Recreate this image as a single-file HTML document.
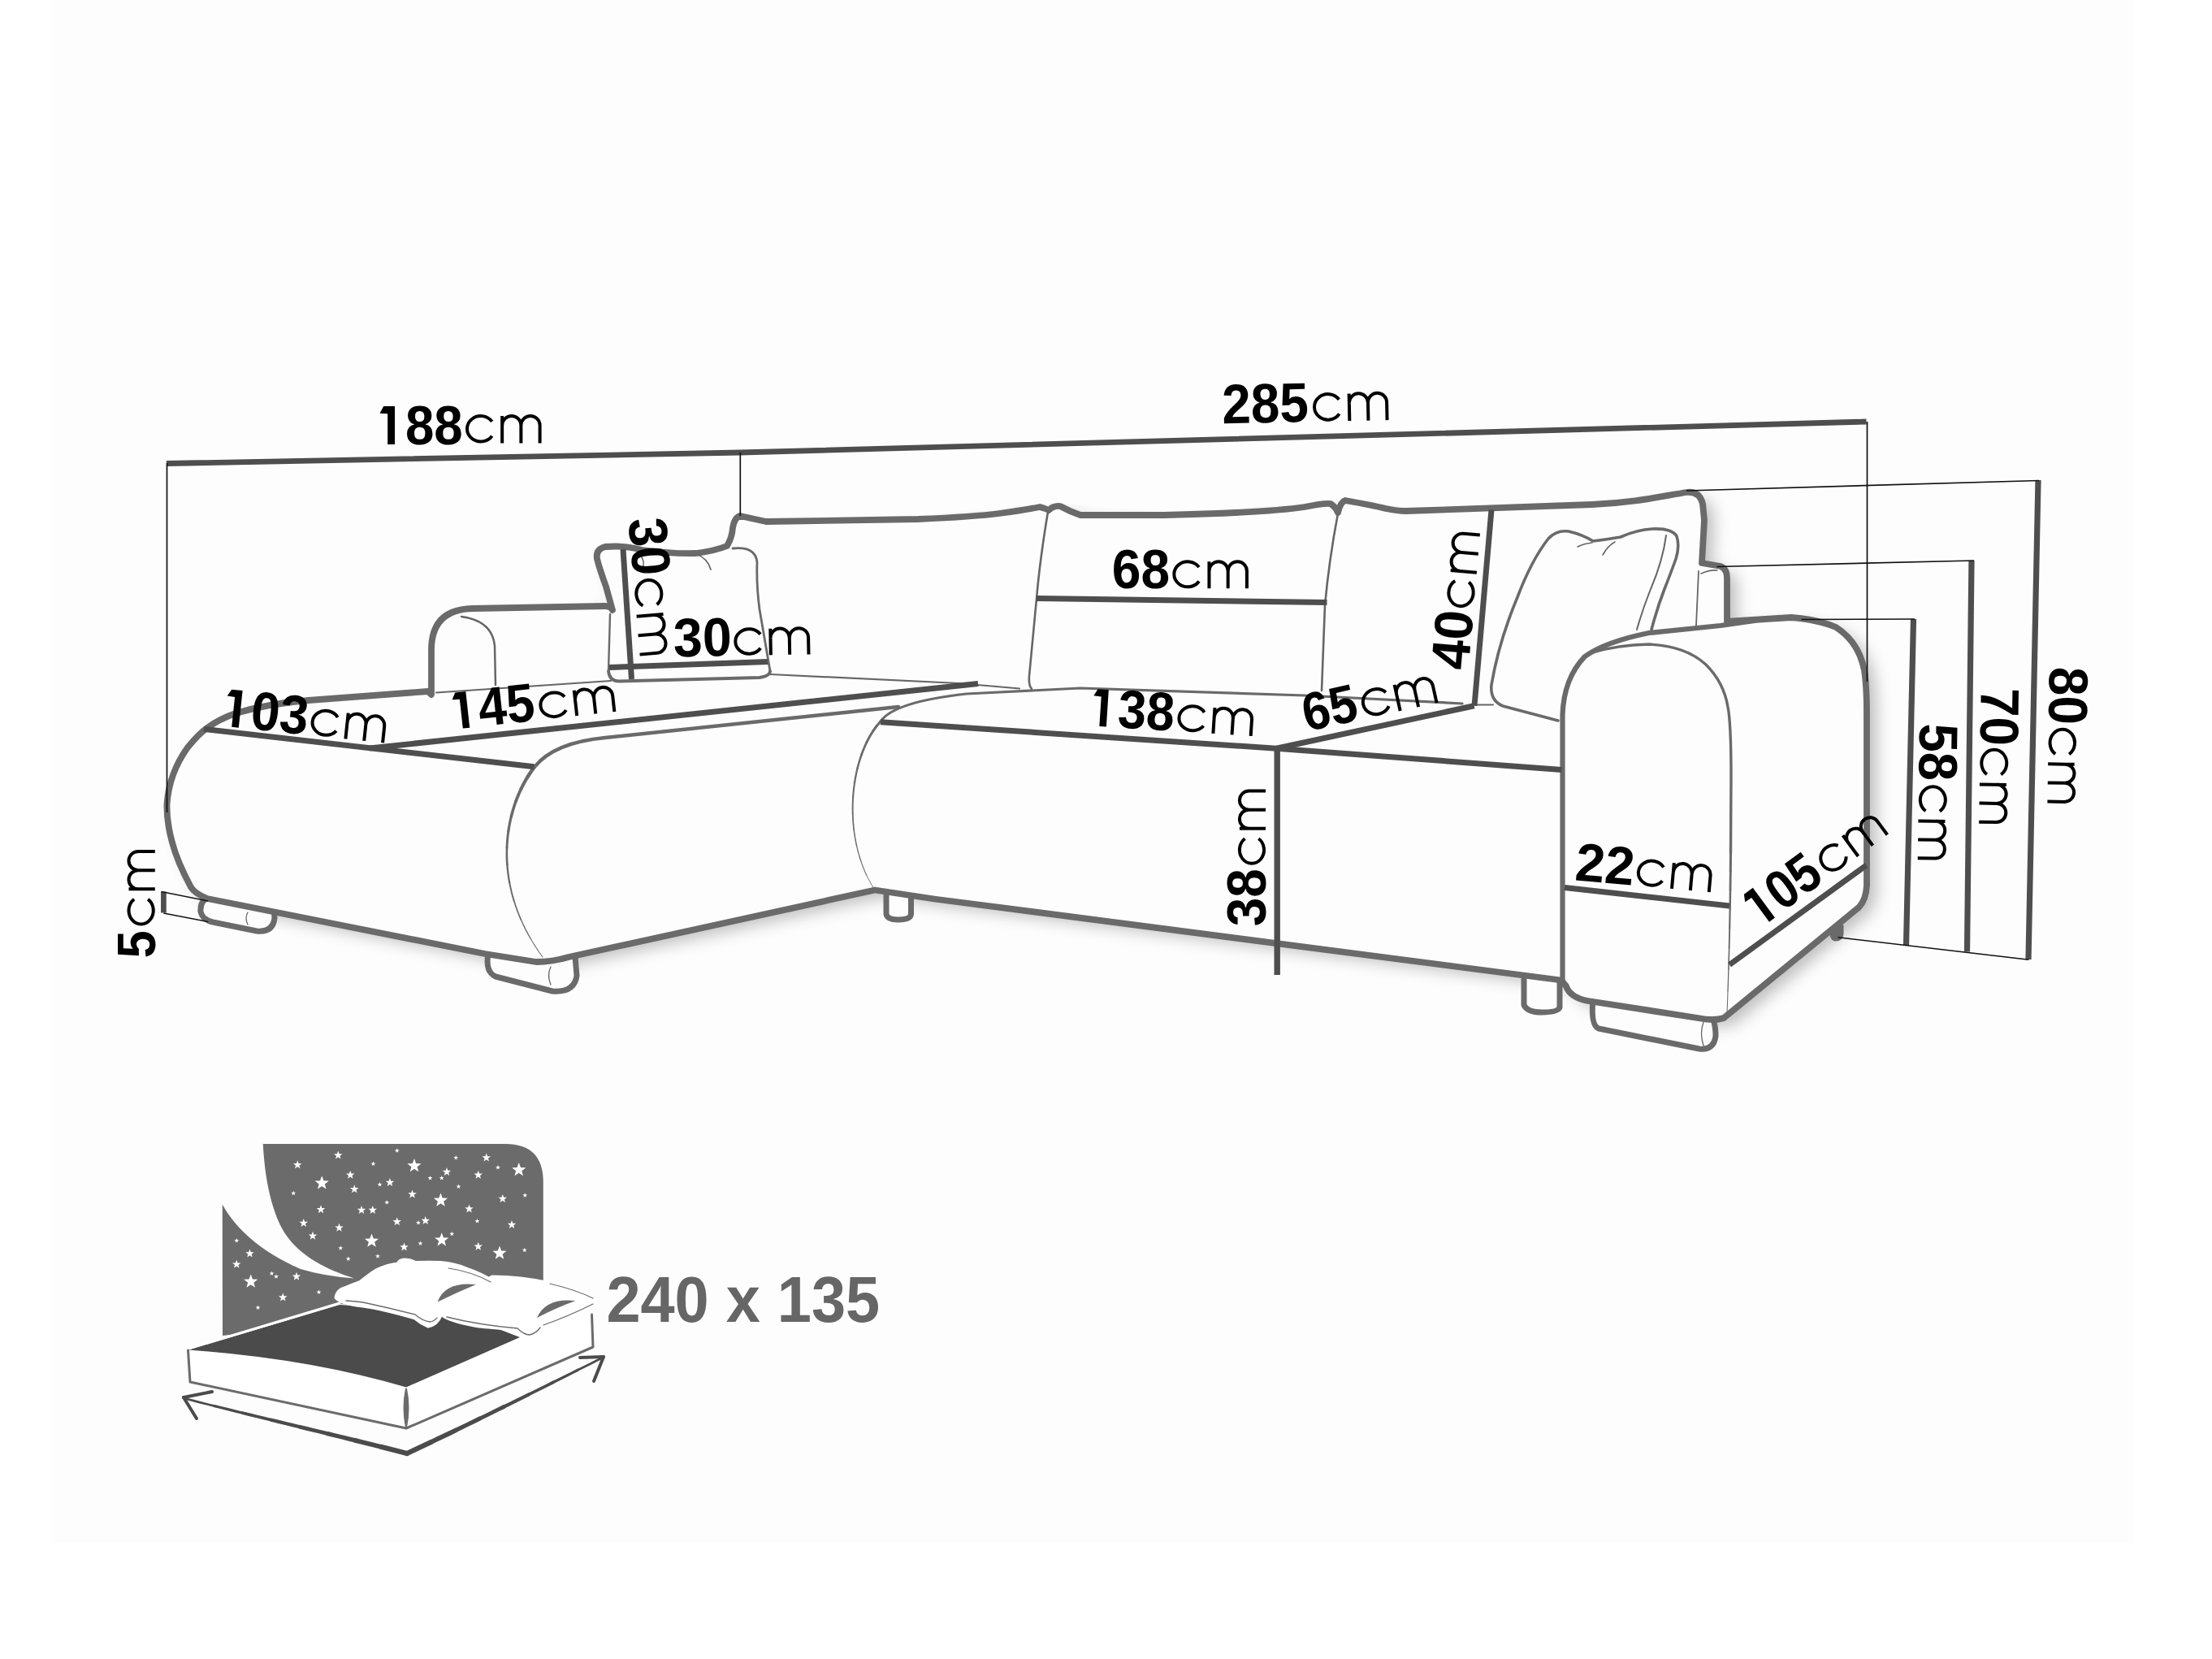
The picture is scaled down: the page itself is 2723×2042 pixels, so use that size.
<!DOCTYPE html>
<html><head><meta charset="utf-8"><style>
html,body{margin:0;padding:0;background:#fff;}
svg{display:block;}
text{font-family:"Liberation Sans",sans-serif;}
</style></head><body>
<svg xmlns="http://www.w3.org/2000/svg" width="2723" height="2042" viewBox="0 0 2723 2042">
<rect x="0" y="0" width="2723" height="2042" fill="#ffffff"/>
<rect x="64" y="0" width="2562" height="1899" fill="#fdfdfd"/>
<defs><filter id="sh" x="-10%" y="-10%" width="120%" height="130%"><feGaussianBlur stdDeviation="10"/></filter><clipPath id="shclip"><path d="M 0 2042 L 0 990 L 199 990 L 201 960 L 226 914 L 252 892 L 288 874 L 380 858 L 525 847 L 527 800 L 535 765 L 582 745 L 730 742 L 731 690 L 735 669 L 790 673 L 857 677 L 891 668 L 898 648 L 909 631 L 943 638 L 1130 635 L 1280 620 L 1305 619 L 1433 630 L 1606 620 L 1656 612 L 1731 625 L 1960 617 L 2076 602 L 2723 602 L 2723 2042 Z"/></clipPath></defs>
<g clip-path="url(#shclip)"><path d="M 531 855 L 531 800 Q 531 750 582 749 L 745 746 Q 752 746 754 751 L 746 722 Q 738 700 735 688 Q 733 676 745 673 Q 770 671 790 677 Q 830 682 857 681 Q 880 678 895 672 Q 901 662 902 650 Q 904 637 911 635 Q 925 638 943 642 Q 1050 640 1130 639 Q 1200 636 1230 632 Q 1260 628 1280 624 Q 1290 627 1291 628 Q 1297 622 1305 623 Q 1318 630 1330 634 L 1433 634 Q 1560 631 1606 624 Q 1630 619 1638 620 Q 1645 625 1647 631 Q 1650 618 1656 616 Q 1690 622 1706 626 Q 1720 629 1731 629 L 1960 621 C 2010 619, 2045 611, 2076 606 Q 2092 604 2096 620 L 2098 640 L 2095 693 L 2118 697 Q 2126 700 2126 712 L 2126 765 L 2205 760 Q 2240 763 2260 772 Q 2288 790 2295 825 Q 2298 845 2298 880 L 2298 1090 Q 2297 1108 2288 1117 L 2122 1253 Q 2110 1257 2090 1253 L 1955 1232 Q 1933 1228 1928 1214 L 1922 1206.5 L 1150 1106.5 L 1077 1095.5 L 700 1178 Q 680 1184 660 1184 L 597 1174 L 255 1106 Q 240 1100 235 1092 Q 218 1060 212 1037 Q 205 1012 205.5 990 Q 208 952 231 920 Q 245 903 255 896 Q 270 885 290 878 Q 330 866 380 862 L 527 851 Z" fill="#000" opacity="0.25" transform="translate(12 8)" filter="url(#sh)"/></g>
<path d="M 258 1104 Q 246 1108 247 1122 Q 249 1132 262 1135 L 316 1146 Q 336 1148 338 1130 L 337 1117" fill="#fdfdfd" stroke="#6a6a6a" stroke-width="7" stroke-linecap="round" stroke-linejoin="round"/>
<path d="M 305 1123 Q 301 1130 305 1138" fill="none" stroke="#666666" stroke-width="1.3" stroke-linecap="round" stroke-linejoin="round"/>
<path d="M 601 1174 Q 597 1196 610 1202 L 680 1220 Q 707 1222 710 1201 L 708 1178" fill="#fdfdfd" stroke="#6a6a6a" stroke-width="7" stroke-linecap="round" stroke-linejoin="round"/>
<path d="M 678 1190 Q 673 1200 678 1212" fill="none" stroke="#666666" stroke-width="1.3" stroke-linecap="round" stroke-linejoin="round"/>
<path d="M 1091 1095 L 1091 1125 Q 1092 1132 1106 1132 Q 1121 1132 1121.5 1125 L 1121.5 1099" fill="#fdfdfd" stroke="#6a6a6a" stroke-width="7" stroke-linecap="round" stroke-linejoin="round"/>
<path d="M 1876 1201 L 1876 1237 Q 1880 1246 1898 1246 Q 1918 1246 1920 1240 L 1920 1206" fill="#fdfdfd" stroke="#6a6a6a" stroke-width="7" stroke-linecap="round" stroke-linejoin="round"/>
<path d="M 1961 1230 Q 1958 1262 1968 1266 L 2092 1291 Q 2110 1293 2112 1275 Q 2112 1262 2108 1252" fill="#fdfdfd" stroke="#6a6a6a" stroke-width="7" stroke-linecap="round" stroke-linejoin="round"/>
<path d="M 2097 1258 Q 2092 1272 2097 1287" fill="none" stroke="#666666" stroke-width="1.3" stroke-linecap="round" stroke-linejoin="round"/>
<path d="M 2255 1143 Q 2254 1155 2259 1156 Q 2267 1156 2267 1149 L 2267 1140" fill="#6a6a6a" stroke="#6a6a6a" stroke-width="5" stroke-linecap="round" stroke-linejoin="round"/>
<path d="M 531 855 L 531 800 Q 531 750 582 749 L 745 746 Q 752 746 754 751 L 746 722 Q 738 700 735 688 Q 733 676 745 673 Q 770 671 790 677 Q 830 682 857 681 Q 880 678 895 672 Q 901 662 902 650 Q 904 637 911 635 Q 925 638 943 642 Q 1050 640 1130 639 Q 1200 636 1230 632 Q 1260 628 1280 624 Q 1290 627 1291 628 Q 1297 622 1305 623 Q 1318 630 1330 634 L 1433 634 Q 1560 631 1606 624 Q 1630 619 1638 620 Q 1645 625 1647 631 Q 1650 618 1656 616 Q 1690 622 1706 626 Q 1720 629 1731 629 L 1960 621 C 2010 619, 2045 611, 2076 606 Q 2092 604 2096 620 L 2098 640 L 2095 693 L 2118 697 Q 2126 700 2126 712 L 2126 765 L 2205 760 Q 2240 763 2260 772 Q 2288 790 2295 825 Q 2298 845 2298 880 L 2298 1090 Q 2297 1108 2288 1117 L 2122 1253 Q 2110 1257 2090 1253 L 1955 1232 Q 1933 1228 1928 1214 L 1922 1206.5 L 1150 1106.5 L 1077 1095.5 L 700 1178 Q 680 1184 660 1184 L 597 1174 L 255 1106 Q 240 1100 235 1092 Q 218 1060 212 1037 Q 205 1012 205.5 990 Q 208 952 231 920 Q 245 903 255 896 Q 270 885 290 878 Q 330 866 380 862 L 527 851 Z" fill="#fdfdfd" stroke="#6a6a6a" stroke-width="7.8" stroke-linejoin="round"/>
<path d="M 568 759 Q 606 764 609 795 L 610 843" fill="none" stroke="#666666" stroke-width="2.5" stroke-linecap="round" stroke-linejoin="round"/>
<path d="M 537 852.5 L 752 838" fill="none" stroke="#666666" stroke-width="2.2" stroke-linecap="round" stroke-linejoin="round"/>
<path d="M 948 830 L 1180 841 L 1255 847.5" fill="none" stroke="#666666" stroke-width="2.2" stroke-linecap="round" stroke-linejoin="round"/>
<path d="M 751 756 L 749 826" fill="none" stroke="#6a6a6a" stroke-width="2.4" stroke-linecap="round" stroke-linejoin="round"/>
<path d="M 749 826 Q 750 838 762 838.5 L 935 834 Q 948 832 948 826" fill="none" stroke="#6a6a6a" stroke-width="3.8" stroke-linecap="round" stroke-linejoin="round"/>
<path d="M 902 675 Q 930 672 932 692 Q 931 720 935 750 Q 942 790 948 826" fill="none" stroke="#6a6a6a" stroke-width="2.8" stroke-linecap="round" stroke-linejoin="round"/>
<path d="M 857 682 Q 871 687 875 701" fill="none" stroke="#666666" stroke-width="1.8" stroke-linecap="round" stroke-linejoin="round"/>
<path d="M 789 684 Q 793 690 792 697" fill="none" stroke="#666666" stroke-width="1.5" stroke-linecap="round" stroke-linejoin="round"/>
<path d="M 658 944 Q 682 914 745 908 L 1106 870" fill="none" stroke="#6a6a6a" stroke-width="4.4" stroke-linecap="round" stroke-linejoin="round"/>
<path d="M 658.00 944.00 L 655.77 946.94 L 653.58 950.00 L 651.43 953.19 L 649.34 956.49" fill="none" stroke="#6a6a6a" stroke-width="4.45" stroke-linecap="round" stroke-linejoin="round"/><path d="M 649.34 956.49 L 647.29 959.91 L 645.30 963.45 L 643.38 967.09 L 641.52 970.85" fill="none" stroke="#6a6a6a" stroke-width="4.14" stroke-linecap="round" stroke-linejoin="round"/><path d="M 641.52 970.85 L 639.73 974.71 L 638.01 978.67 L 636.37 982.73 L 634.81 986.89" fill="none" stroke="#6a6a6a" stroke-width="3.83" stroke-linecap="round" stroke-linejoin="round"/><path d="M 634.81 986.89 L 633.34 991.14 L 631.96 995.49 L 630.67 999.92 L 629.48 1004.44" fill="none" stroke="#6a6a6a" stroke-width="3.52" stroke-linecap="round" stroke-linejoin="round"/><path d="M 629.48 1004.44 L 628.39 1009.05 L 627.41 1013.73 L 626.54 1018.49 L 625.79 1023.33" fill="none" stroke="#6a6a6a" stroke-width="3.21" stroke-linecap="round" stroke-linejoin="round"/><path d="M 625.79 1023.33 L 625.15 1028.24 L 624.64 1033.22 L 624.25 1038.27 L 624.00 1043.38" fill="none" stroke="#6a6a6a" stroke-width="2.9" stroke-linecap="round" stroke-linejoin="round"/><path d="M 624.00 1043.38 L 623.88 1048.55 L 623.90 1053.77 L 624.07 1059.06 L 624.38 1064.40" fill="none" stroke="#6a6a6a" stroke-width="2.6" stroke-linecap="round" stroke-linejoin="round"/><path d="M 624.38 1064.40 L 624.84 1069.79 L 625.46 1075.22 L 626.24 1080.70 L 627.19 1086.22" fill="none" stroke="#6a6a6a" stroke-width="2.29" stroke-linecap="round" stroke-linejoin="round"/><path d="M 627.19 1086.22 L 628.30 1091.78 L 629.58 1097.38 L 631.04 1103.01 L 632.69 1108.67" fill="none" stroke="#6a6a6a" stroke-width="1.98" stroke-linecap="round" stroke-linejoin="round"/><path d="M 632.69 1108.67 L 634.52 1114.36 L 636.53 1120.08 L 638.74 1125.81 L 641.15 1131.57" fill="none" stroke="#6a6a6a" stroke-width="1.67" stroke-linecap="round" stroke-linejoin="round"/><path d="M 641.15 1131.57 L 643.76 1137.34 L 646.57 1143.13 L 649.59 1148.93 L 652.83 1154.74" fill="none" stroke="#6a6a6a" stroke-width="1.36" stroke-linecap="round" stroke-linejoin="round"/><path d="M 652.83 1154.74 L 656.29 1160.55 L 659.96 1166.37 L 663.87 1172.19 L 668.00 1178.00" fill="none" stroke="#6a6a6a" stroke-width="1.05" stroke-linecap="round" stroke-linejoin="round"/>
<path d="M 1084.00 888.00 L 1081.60 890.70 L 1079.28 893.55 L 1077.03 896.53 L 1074.87 899.65" fill="none" stroke="#6a6a6a" stroke-width="3.1" stroke-linecap="round" stroke-linejoin="round"/><path d="M 1074.87 899.65 L 1072.78 902.91 L 1070.78 906.29 L 1068.86 909.78 L 1067.02 913.40" fill="none" stroke="#6a6a6a" stroke-width="2.9" stroke-linecap="round" stroke-linejoin="round"/><path d="M 1067.02 913.40 L 1065.27 917.12 L 1063.60 920.95 L 1062.02 924.88 L 1060.53 928.91" fill="none" stroke="#6a6a6a" stroke-width="2.7" stroke-linecap="round" stroke-linejoin="round"/><path d="M 1060.53 928.91 L 1059.13 933.02 L 1057.82 937.22 L 1056.60 941.50 L 1055.48 945.85" fill="none" stroke="#6a6a6a" stroke-width="2.5" stroke-linecap="round" stroke-linejoin="round"/><path d="M 1055.48 945.85 L 1054.45 950.27 L 1053.52 954.76 L 1052.68 959.31 L 1051.95 963.91" fill="none" stroke="#6a6a6a" stroke-width="2.3" stroke-linecap="round" stroke-linejoin="round"/><path d="M 1051.95 963.91 L 1051.31 968.56 L 1050.77 973.25 L 1050.33 977.98 L 1050.00 982.75" fill="none" stroke="#6a6a6a" stroke-width="2.1" stroke-linecap="round" stroke-linejoin="round"/><path d="M 1050.00 982.75 L 1049.77 987.54 L 1049.65 992.36 L 1049.63 997.20 L 1049.72 1002.05" fill="none" stroke="#6a6a6a" stroke-width="1.9" stroke-linecap="round" stroke-linejoin="round"/><path d="M 1049.72 1002.05 L 1049.92 1006.91 L 1050.23 1011.77 L 1050.65 1016.63 L 1051.19 1021.48" fill="none" stroke="#6a6a6a" stroke-width="1.7" stroke-linecap="round" stroke-linejoin="round"/><path d="M 1051.19 1021.48 L 1051.83 1026.32 L 1052.59 1031.14 L 1053.47 1035.95 L 1054.47 1040.72" fill="none" stroke="#6a6a6a" stroke-width="1.5" stroke-linecap="round" stroke-linejoin="round"/><path d="M 1054.47 1040.72 L 1055.58 1045.46 L 1056.82 1050.16 L 1058.17 1054.82 L 1059.65 1059.44" fill="none" stroke="#6a6a6a" stroke-width="1.3" stroke-linecap="round" stroke-linejoin="round"/><path d="M 1059.65 1059.44 L 1061.25 1063.99 L 1062.97 1068.50 L 1064.82 1072.93 L 1066.80 1077.30" fill="none" stroke="#6a6a6a" stroke-width="1.1" stroke-linecap="round" stroke-linejoin="round"/><path d="M 1066.80 1077.30 L 1068.90 1081.60 L 1071.14 1085.82 L 1073.50 1089.95 L 1076.00 1094.00" fill="none" stroke="#6a6a6a" stroke-width="0.9" stroke-linecap="round" stroke-linejoin="round"/>
<path d="M 1084 888 Q 1100 864 1190 854 L 1330 847 L 1606 856 L 1800 866" fill="none" stroke="#6a6a6a" stroke-width="3.2" stroke-linecap="round" stroke-linejoin="round"/>
<path d="M 1816 867.5 L 1838 867.5" fill="none" stroke="#666666" stroke-width="2" stroke-linecap="round" stroke-linejoin="round"/>
<path d="M 1290 630 Q 1280 690 1276 737 L 1267 832 Q 1266 843 1270 848" fill="none" stroke="#666666" stroke-width="2.6" stroke-linecap="round" stroke-linejoin="round"/>
<path d="M 1647 632 Q 1636 690 1631 745 L 1627 850" fill="none" stroke="#666666" stroke-width="2.6" stroke-linecap="round" stroke-linejoin="round"/>
<path d="M 1918 887 L 1850 869 Q 1834 862 1836 843 Q 1845 790 1868 735 Q 1885 690 1906 663 Q 1916 652 1931 654 Q 1948 658 1961 666 Q 1978 664 1995 661 Q 2015 652 2034 651 Q 2058 650 2064 660 Q 2068 672 2063 688 Q 2055 710 2049 725 Q 2040 748 2033 775" fill="none" stroke="#6a6a6a" stroke-width="3.6" stroke-linecap="round" stroke-linejoin="round"/>
<path d="M 2051 659 Q 2047 690 2032 725 Q 2022 750 2015 775" fill="none" stroke="#666666" stroke-width="2" stroke-linecap="round" stroke-linejoin="round"/>
<path d="M 1942 673 Q 1950 669 1960 668" fill="none" stroke="#666666" stroke-width="1.6" stroke-linecap="round" stroke-linejoin="round"/>
<path d="M 1973 683 Q 1979 672 1988 667" fill="none" stroke="#666666" stroke-width="1.6" stroke-linecap="round" stroke-linejoin="round"/>
<path d="M 2091 703 L 2088 770" fill="none" stroke="#666666" stroke-width="1.8" stroke-linecap="round" stroke-linejoin="round"/>
<path d="M 2094 706 Q 2105 701 2114 702" fill="none" stroke="#666666" stroke-width="1.6" stroke-linecap="round" stroke-linejoin="round"/>
<path d="M 1923.5 1208 L 1923.5 880 Q 1925 835 1951 808 Q 1976 790 2030 779 L 2118 770 L 2160 764" fill="none" stroke="#6a6a6a" stroke-width="6.2" stroke-linecap="round" stroke-linejoin="round"/>
<path d="M 1961 803 Q 1990 794 2030 793 Q 2075 795 2100 818 Q 2122 840 2127 870 Q 2131 890 2131 955 L 2130.5 1050" fill="none" stroke="#6a6a6a" stroke-width="3.4" stroke-linecap="round" stroke-linejoin="round"/>
<path d="M 2130.50 1050.00 L 2130.45 1055.63 L 2130.40 1061.25 L 2130.34 1066.89 L 2130.29 1072.54" fill="none" stroke="#6a6a6a" stroke-width="3.06" stroke-linecap="round" stroke-linejoin="round"/><path d="M 2130.29 1072.54 L 2130.22 1078.19 L 2130.16 1083.87 L 2130.08 1089.56 L 2130.01 1095.28" fill="none" stroke="#6a6a6a" stroke-width="2.77" stroke-linecap="round" stroke-linejoin="round"/><path d="M 2130.01 1095.28 L 2129.93 1101.03 L 2129.84 1106.80 L 2129.75 1112.61 L 2129.65 1118.45" fill="none" stroke="#6a6a6a" stroke-width="2.48" stroke-linecap="round" stroke-linejoin="round"/><path d="M 2129.65 1118.45 L 2129.54 1124.33 L 2129.43 1130.26 L 2129.31 1136.23 L 2129.19 1142.25" fill="none" stroke="#6a6a6a" stroke-width="2.19" stroke-linecap="round" stroke-linejoin="round"/><path d="M 2129.19 1142.25 L 2129.05 1148.32 L 2128.91 1154.45 L 2128.77 1160.64 L 2128.61 1166.89" fill="none" stroke="#6a6a6a" stroke-width="1.91" stroke-linecap="round" stroke-linejoin="round"/><path d="M 2128.61 1166.89 L 2128.45 1173.21 L 2128.27 1179.60 L 2128.09 1186.06 L 2127.90 1192.59" fill="none" stroke="#6a6a6a" stroke-width="1.62" stroke-linecap="round" stroke-linejoin="round"/><path d="M 2127.90 1192.59 L 2127.70 1199.21 L 2127.49 1205.90 L 2127.27 1212.69 L 2127.03 1219.56" fill="none" stroke="#6a6a6a" stroke-width="1.33" stroke-linecap="round" stroke-linejoin="round"/><path d="M 2127.03 1219.56 L 2126.79 1226.52 L 2126.54 1233.58 L 2126.28 1240.74 L 2126.00 1248.00" fill="none" stroke="#6a6a6a" stroke-width="1.04" stroke-linecap="round" stroke-linejoin="round"/>
<path d="M 205 570.5 L 911 557 L 2297.5 519" fill="none" stroke="#4e4e4e" stroke-width="6.8" stroke-linecap="butt" stroke-linejoin="round"/>
<line x1="767" y1="676" x2="777.5" y2="836" stroke="#4e4e4e" stroke-width="7" stroke-linecap="butt"/>
<line x1="750" y1="821.5" x2="945" y2="814.5" stroke="#4e4e4e" stroke-width="7" stroke-linecap="butt"/>
<line x1="251" y1="897.5" x2="657.5" y2="943.75" stroke="#4e4e4e" stroke-width="7" stroke-linecap="butt"/>
<line x1="455" y1="921" x2="1204" y2="841.5" stroke="#4e4e4e" stroke-width="7" stroke-linecap="butt"/>
<line x1="1276" y1="736.5" x2="1633.5" y2="741.5" stroke="#4e4e4e" stroke-width="7" stroke-linecap="butt"/>
<line x1="1084" y1="888.75" x2="1571.25" y2="921.25" stroke="#4e4e4e" stroke-width="7" stroke-linecap="butt"/>
<line x1="1571.25" y1="921.25" x2="1814.75" y2="868.75" stroke="#4e4e4e" stroke-width="7" stroke-linecap="butt"/>
<line x1="1815" y1="868.75" x2="1836" y2="627.5" stroke="#4e4e4e" stroke-width="7" stroke-linecap="butt"/>
<line x1="1571.25" y1="921.25" x2="1922.5" y2="947.5" stroke="#4e4e4e" stroke-width="7" stroke-linecap="butt"/>
<line x1="1572.2" y1="922" x2="1572.2" y2="1200" stroke="#4e4e4e" stroke-width="7.4" stroke-linecap="butt"/>
<line x1="1926" y1="1092.5" x2="2129" y2="1115" stroke="#4e4e4e" stroke-width="7" stroke-linecap="butt"/>
<line x1="2129" y1="1187.5" x2="2297.5" y2="1065" stroke="#4e4e4e" stroke-width="7" stroke-linecap="butt"/>
<line x1="2509" y1="591" x2="2497" y2="1181" stroke="#4e4e4e" stroke-width="7.2" stroke-linecap="butt"/>
<line x1="2427" y1="690" x2="2421.5" y2="1171.5" stroke="#4e4e4e" stroke-width="7.2" stroke-linecap="butt"/>
<line x1="2355.5" y1="762" x2="2346.5" y2="1164" stroke="#4e4e4e" stroke-width="7.2" stroke-linecap="butt"/>
<line x1="201.4" y1="1097.5" x2="201.4" y2="1123.5" stroke="#4e4e4e" stroke-width="6.7" stroke-linecap="butt"/>
<line x1="205.5" y1="570" x2="205.5" y2="1000" stroke="#111111" stroke-width="1.7" stroke-linecap="butt"/>
<line x1="911.3" y1="557" x2="911.3" y2="635" stroke="#111111" stroke-width="1.7" stroke-linecap="butt"/>
<line x1="2298.5" y1="519" x2="2298.5" y2="839" stroke="#111111" stroke-width="1.7" stroke-linecap="butt"/>
<line x1="2076" y1="604" x2="2510" y2="591.5" stroke="#111111" stroke-width="1.7" stroke-linecap="butt"/>
<line x1="2113.5" y1="697.5" x2="2430" y2="690" stroke="#111111" stroke-width="1.7" stroke-linecap="butt"/>
<line x1="2217.5" y1="762.5" x2="2357" y2="762" stroke="#111111" stroke-width="1.7" stroke-linecap="butt"/>
<line x1="2262.5" y1="1153.75" x2="2497.5" y2="1181.25" stroke="#111111" stroke-width="1.7" stroke-linecap="butt"/>
<line x1="198.5" y1="1097.5" x2="256.3" y2="1109.1" stroke="#111111" stroke-width="1.4" stroke-linecap="butt"/>
<line x1="201.4" y1="1124" x2="256.3" y2="1134.6" stroke="#111111" stroke-width="1.4" stroke-linecap="butt"/>
<g transform="translate(467.5 547) rotate(0)"><text x="-4.01" y="0" font-size="69.03" font-weight="bold" textLength="106.27" lengthAdjust="spacingAndGlyphs" fill="#000"> 88</text><polygon points="4.73,-47.00 18.52,-47.00 18.52,0.00 9.67,0.00 9.67,-37.83 0.00,-38.35" fill="#000"/><g transform="translate(0 -1.5)"><path d="M 138.18 -26.56 A 16.77 15.75 0 1 0 138.18 -8.94 M 150.65 0 L 150.65 -33.50 M 150.65 -21.89 A 11.61 11.61 0 0 1 173.87 -21.89 L 173.87 0 M 173.87 -21.89 A 11.61 11.61 0 0 1 197.10 -21.89 L 197.10 0" fill="none" stroke="#000" stroke-width="4.0" stroke-linecap="butt"/></g></g>
<g transform="translate(1507 521.3) rotate(-1.2)"><text x="-2.21" y="0" font-size="68.74" font-weight="bold" textLength="106.49" lengthAdjust="spacingAndGlyphs" fill="#000">285</text><path d="M 141.93 -26.56 A 16.69 15.75 0 1 0 141.93 -8.94 M 154.36 0 L 154.36 -33.50 M 154.36 -21.94 A 11.56 11.56 0 0 1 177.48 -21.94 L 177.48 0 M 177.48 -21.94 A 11.56 11.56 0 0 1 200.60 -21.94 L 200.60 0" fill="none" stroke="#000" stroke-width="4.0" stroke-linecap="butt"/></g>
<g transform="translate(275.85 893.75) rotate(6.0)"><text x="-4.01" y="0" font-size="67.31" font-weight="bold" textLength="106.21" lengthAdjust="spacingAndGlyphs" fill="#000"> 03</text><polygon points="4.61,-45.82 18.06,-45.82 18.06,0.00 9.43,0.00 9.43,-36.89 0.00,-37.39" fill="#000"/><path d="M 137.95 -25.39 A 16.59 15.00 0 1 0 137.95 -8.61 M 150.33 0 L 150.33 -32.00 M 150.33 -20.51 A 11.49 11.49 0 0 1 173.32 -20.51 L 173.32 0 M 173.32 -20.51 A 11.49 11.49 0 0 1 196.30 -20.51 L 196.30 0" fill="none" stroke="#000" stroke-width="4.0" stroke-linecap="butt"/></g>
<g transform="translate(560.65 897.6) rotate(-6.3)"><text x="-3.93" y="0" font-size="66.86" font-weight="bold" textLength="104.06" lengthAdjust="spacingAndGlyphs" fill="#000"> 45</text><polygon points="4.52,-44.85 17.67,-44.85 17.67,0.00 9.23,0.00 9.23,-36.10 0.00,-36.60" fill="#000"/><path d="M 137.98 -25.00 A 16.77 14.75 0 1 0 137.98 -8.50 M 150.45 0 L 150.45 -31.50 M 150.45 -19.89 A 11.61 11.61 0 0 1 173.67 -19.89 L 173.67 0 M 173.67 -19.89 A 11.61 11.61 0 0 1 196.90 -19.89 L 196.90 0" fill="none" stroke="#000" stroke-width="4.0" stroke-linecap="butt"/></g>
<g transform="translate(830.8 808.3) rotate(-1.0)"><text x="-1.48" y="0" font-size="67.31" font-weight="bold" textLength="71.72" lengthAdjust="spacingAndGlyphs" fill="#000">30</text><path d="M 105.59 -25.78 A 16.83 15.25 0 1 0 105.59 -8.72 M 118.08 0 L 118.08 -32.50 M 118.08 -20.85 A 11.65 11.65 0 0 1 141.39 -20.85 L 141.39 0 M 141.39 -20.85 A 11.65 11.65 0 0 1 164.70 -20.85 L 164.70 0" fill="none" stroke="#000" stroke-width="4.0" stroke-linecap="butt"/></g>
<g transform="translate(773.7 640.6) rotate(85.2)"><text x="-1.46" y="0" font-size="67.31" font-weight="bold" textLength="70.98" lengthAdjust="spacingAndGlyphs" fill="#000">30</text><path d="M 106.11 -26.17 A 16.95 15.50 0 1 0 106.11 -8.83 M 118.66 0 L 118.66 -33.00 M 118.66 -21.27 A 11.73 11.73 0 0 1 142.13 -21.27 L 142.13 0 M 142.13 -21.27 A 11.73 11.73 0 0 1 165.60 -21.27 L 165.60 0" fill="none" stroke="#000" stroke-width="4.0" stroke-linecap="butt"/></g>
<g transform="translate(1371.2 724.3) rotate(0)"><text x="-2.35" y="0" font-size="68.74" font-weight="bold" textLength="71.32" lengthAdjust="spacingAndGlyphs" fill="#000">68</text><path d="M 104.78 -26.17 A 16.77 15.50 0 1 0 104.78 -8.83 M 117.25 0 L 117.25 -33.00 M 117.25 -21.39 A 11.61 11.61 0 0 1 140.47 -21.39 L 140.47 0 M 140.47 -21.39 A 11.61 11.61 0 0 1 163.70 -21.39 L 163.70 0" fill="none" stroke="#000" stroke-width="4.0" stroke-linecap="butt"/></g>
<g transform="translate(1344.0 893.3) rotate(3.7)"><text x="-3.95" y="0" font-size="66.74" font-weight="bold" textLength="104.68" lengthAdjust="spacingAndGlyphs" fill="#000"> 38</text><polygon points="4.58,-45.44 17.90,-45.44 17.90,0.00 9.35,0.00 9.35,-36.58 0.00,-37.07" fill="#000"/><path d="M 137.24 -25.39 A 16.75 15.00 0 1 0 137.24 -8.61 M 149.70 0 L 149.70 -32.00 M 149.70 -20.40 A 11.60 11.60 0 0 1 172.90 -20.40 L 172.90 0 M 172.90 -20.40 A 11.60 11.60 0 0 1 196.10 -20.40 L 196.10 0" fill="none" stroke="#000" stroke-width="4.0" stroke-linecap="butt"/></g>
<g transform="translate(1610.7 900.1) rotate(-12.5)"><text x="-2.23" y="0" font-size="65.88" font-weight="bold" textLength="67.62" lengthAdjust="spacingAndGlyphs" fill="#000">65</text><path d="M 103.35 -26.17 A 16.59 15.50 0 1 0 103.35 -8.83 M 115.73 0 L 115.73 -33.00 M 115.73 -21.51 A 11.49 11.49 0 0 1 138.72 -21.51 L 138.72 0 M 138.72 -21.51 A 11.49 11.49 0 0 1 161.70 -21.51 L 161.70 0" fill="none" stroke="#000" stroke-width="4.0" stroke-linecap="butt"/></g>
<g transform="translate(1807.6 824.5) rotate(-85.1)"><text x="-0.99" y="0" font-size="66.60" font-weight="bold" textLength="72.88" lengthAdjust="spacingAndGlyphs" fill="#000">40</text><path d="M 107.77 -25.62 A 16.71 15.15 0 1 0 107.77 -8.68 M 120.21 0 L 120.21 -32.30 M 120.21 -20.73 A 11.57 11.57 0 0 1 143.35 -20.73 L 143.35 0 M 143.35 -20.73 A 11.57 11.57 0 0 1 166.50 -20.73 L 166.50 0" fill="none" stroke="#000" stroke-width="4.0" stroke-linecap="butt"/></g>
<g transform="translate(1558 1138.7) rotate(-90)"><text x="-1.47" y="0" font-size="67.88" font-weight="bold" textLength="71.03" lengthAdjust="spacingAndGlyphs" fill="#000">38</text><path d="M 106.47 -25.47 A 16.71 15.05 0 1 0 106.47 -8.63 M 118.91 0 L 118.91 -32.10 M 118.91 -20.53 A 11.57 11.57 0 0 1 142.05 -20.53 L 142.05 0 M 142.05 -20.53 A 11.57 11.57 0 0 1 165.20 -20.53 L 165.20 0" fill="none" stroke="#000" stroke-width="4.0" stroke-linecap="butt"/></g>
<g transform="translate(1940 1083.4) rotate(5.1)"><text x="-2.26" y="0" font-size="66.17" font-weight="bold" textLength="72.57" lengthAdjust="spacingAndGlyphs" fill="#000">22</text><path d="M 106.05 -25.39 A 16.59 15.00 0 1 0 106.05 -8.61 M 118.43 0 L 118.43 -32.00 M 118.43 -20.51 A 11.49 11.49 0 0 1 141.42 -20.51 L 141.42 0 M 141.42 -20.51 A 11.49 11.49 0 0 1 164.40 -20.51 L 164.40 0" fill="none" stroke="#000" stroke-width="4.0" stroke-linecap="butt"/></g>
<g transform="translate(2170.4 1140.3) rotate(-36.4)"><text x="-3.75" y="0" font-size="67.31" font-weight="bold" textLength="99.41" lengthAdjust="spacingAndGlyphs" fill="#000"> 05</text><polygon points="4.61,-45.82 18.06,-45.82 18.06,0.00 9.43,0.00 9.43,-36.89 0.00,-37.39" fill="#000"/><path d="M 133.36 -25.39 A 16.05 15.00 0 1 0 133.36 -8.61 M 145.49 0 L 145.49 -32.00 M 145.49 -20.87 A 11.13 11.13 0 0 1 167.74 -20.87 L 167.74 0 M 167.74 -20.87 A 11.13 11.13 0 0 1 190.00 -20.87 L 190.00 0" fill="none" stroke="#000" stroke-width="4.0" stroke-linecap="butt"/></g>
<g transform="translate(2363.3 892.3) rotate(90.9)"><text x="-1.95" y="0" font-size="67.31" font-weight="bold" textLength="70.39" lengthAdjust="spacingAndGlyphs" fill="#000">58</text><path d="M 105.84 -26.17 A 16.53 15.50 0 1 0 105.84 -8.83 M 118.19 0 L 118.19 -33.00 M 118.19 -21.55 A 11.45 11.45 0 0 1 141.10 -21.55 L 141.10 0 M 141.10 -21.55 A 11.45 11.45 0 0 1 164.00 -21.55 L 164.00 0" fill="none" stroke="#000" stroke-width="4.0" stroke-linecap="butt"/></g>
<g transform="translate(2438.7 849.2) rotate(90.9)"><text x="-2.75" y="0" font-size="67.31" font-weight="bold" textLength="71.17" lengthAdjust="spacingAndGlyphs" fill="#000">70</text><path d="M 103.83 -26.17 A 16.69 15.50 0 1 0 103.83 -8.83 M 116.26 0 L 116.26 -33.00 M 116.26 -21.44 A 11.56 11.56 0 0 1 139.38 -21.44 L 139.38 0 M 139.38 -21.44 A 11.56 11.56 0 0 1 162.50 -21.44 L 162.50 0" fill="none" stroke="#000" stroke-width="4.0" stroke-linecap="butt"/></g>
<g transform="translate(2523 822.5) rotate(90.9)"><text x="-2.03" y="0" font-size="68.03" font-weight="bold" textLength="71.26" lengthAdjust="spacingAndGlyphs" fill="#000">80</text><path d="M 105.43 -25.78 A 16.69 15.25 0 1 0 105.43 -8.72 M 117.86 0 L 117.86 -32.50 M 117.86 -20.94 A 11.56 11.56 0 0 1 140.98 -20.94 L 140.98 0 M 140.98 -20.94 A 11.56 11.56 0 0 1 164.10 -20.94 L 164.10 0" fill="none" stroke="#000" stroke-width="4.0" stroke-linecap="butt"/></g>
<g transform="translate(190.8 1177.5) rotate(-90)"><text x="-1.87" y="0" font-size="67.30" font-weight="bold" textLength="33.87" lengthAdjust="spacingAndGlyphs" fill="#000">5</text><path d="M 70.68 -25.62 A 16.77 15.15 0 1 0 70.68 -8.68 M 83.15 0 L 83.15 -32.30 M 83.15 -20.69 A 11.61 11.61 0 0 1 106.37 -20.69 L 106.37 0 M 106.37 -20.69 A 11.61 11.61 0 0 1 129.60 -20.69 L 129.60 0" fill="none" stroke="#000" stroke-width="4.0" stroke-linecap="butt"/></g>
<path d="M 323.75 1408 L 622 1408 Q 668.75 1408 668.75 1455 L 668.75 1600 L 274 1644 L 273.75 1482.5 C 290 1512, 320 1540, 370 1562 Q 400 1571 436 1573.5 C 395 1560, 362 1542, 345 1508 C 333 1482, 326 1450, 323.75 1408 Z" fill="#6b6b6b"/>
<polygon points="396.25,1447.25 398.47,1453.19 404.81,1453.47 399.84,1457.42 401.54,1463.53 396.25,1460.03 390.96,1463.53 392.66,1457.42 387.69,1453.47 394.03,1453.19" fill="#fff"/>
<polygon points="510.00,1426.00 512.22,1431.94 518.56,1432.22 513.59,1436.17 515.29,1442.28 510.00,1438.78 504.71,1442.28 506.41,1436.17 501.44,1432.22 507.78,1431.94" fill="#fff"/>
<polygon points="638.75,1431.00 640.97,1436.94 647.31,1437.22 642.34,1441.17 644.04,1447.28 638.75,1443.78 633.46,1447.28 635.16,1441.17 630.19,1437.22 636.53,1436.94" fill="#fff"/>
<polygon points="542.50,1468.50 544.72,1474.44 551.06,1474.72 546.09,1478.67 547.79,1484.78 542.50,1481.28 537.21,1484.78 538.91,1478.67 533.94,1474.72 540.28,1474.44" fill="#fff"/>
<polygon points="457.50,1518.50 459.72,1524.44 466.06,1524.72 461.09,1528.67 462.79,1534.78 457.50,1531.28 452.21,1534.78 453.91,1528.67 448.94,1524.72 455.28,1524.44" fill="#fff"/>
<polygon points="543.75,1517.25 545.97,1523.19 552.31,1523.47 547.34,1527.42 549.04,1533.53 543.75,1530.03 538.46,1533.53 540.16,1527.42 535.19,1523.47 541.53,1523.19" fill="#fff"/>
<polygon points="615.00,1533.50 617.22,1539.44 623.56,1539.72 618.59,1543.67 620.29,1549.78 615.00,1546.28 609.71,1549.78 611.41,1543.67 606.44,1539.72 612.78,1539.44" fill="#fff"/>
<polygon points="308.75,1568.50 310.97,1574.44 317.31,1574.72 312.34,1578.67 314.04,1584.78 308.75,1581.28 303.46,1584.78 305.16,1578.67 300.19,1574.72 306.53,1574.44" fill="#fff"/>
<polygon points="416.25,1416.50 417.61,1420.13 421.48,1420.30 418.45,1422.71 419.48,1426.45 416.25,1424.31 413.02,1426.45 414.05,1422.71 411.02,1420.30 414.89,1420.13" fill="#fff"/>
<polygon points="366.25,1428.25 367.61,1431.88 371.48,1432.05 368.45,1434.46 369.48,1438.20 366.25,1436.06 363.02,1438.20 364.05,1434.46 361.02,1432.05 364.89,1431.88" fill="#fff"/>
<polygon points="431.25,1440.75 432.61,1444.38 436.48,1444.55 433.45,1446.96 434.48,1450.70 431.25,1448.56 428.02,1450.70 429.05,1446.96 426.02,1444.55 429.89,1444.38" fill="#fff"/>
<polygon points="480.00,1450.00 481.36,1453.63 485.23,1453.80 482.20,1456.21 483.23,1459.95 480.00,1457.81 476.77,1459.95 477.80,1456.21 474.77,1453.80 478.64,1453.63" fill="#fff"/>
<polygon points="436.25,1458.25 437.61,1461.88 441.48,1462.05 438.45,1464.46 439.48,1468.20 436.25,1466.06 433.02,1468.20 434.05,1464.46 431.02,1462.05 434.89,1461.88" fill="#fff"/>
<polygon points="507.50,1464.50 508.86,1468.13 512.73,1468.30 509.70,1470.71 510.73,1474.45 507.50,1472.31 504.27,1474.45 505.30,1470.71 502.27,1468.30 506.14,1468.13" fill="#fff"/>
<polygon points="550.00,1437.00 551.36,1440.63 555.23,1440.80 552.20,1443.21 553.23,1446.95 550.00,1444.81 546.77,1446.95 547.80,1443.21 544.77,1440.80 548.64,1440.63" fill="#fff"/>
<polygon points="588.75,1440.75 590.11,1444.38 593.98,1444.55 590.95,1446.96 591.98,1450.70 588.75,1448.56 585.52,1450.70 586.55,1446.96 583.52,1444.55 587.39,1444.38" fill="#fff"/>
<polygon points="598.75,1419.50 600.11,1423.13 603.98,1423.30 600.95,1425.71 601.98,1429.45 598.75,1427.31 595.52,1429.45 596.55,1425.71 593.52,1423.30 597.39,1423.13" fill="#fff"/>
<polygon points="618.75,1470.00 620.11,1473.63 623.98,1473.80 620.95,1476.21 621.98,1479.95 618.75,1477.81 615.52,1479.95 616.55,1476.21 613.52,1473.80 617.39,1473.63" fill="#fff"/>
<polygon points="395.00,1483.25 396.36,1486.88 400.23,1487.05 397.20,1489.46 398.23,1493.20 395.00,1491.06 391.77,1493.20 392.80,1489.46 389.77,1487.05 393.64,1486.88" fill="#fff"/>
<polygon points="445.00,1484.00 446.36,1487.63 450.23,1487.80 447.20,1490.21 448.23,1493.95 445.00,1491.81 441.77,1493.95 442.80,1490.21 439.77,1487.80 443.64,1487.63" fill="#fff"/>
<polygon points="458.75,1484.00 460.11,1487.63 463.98,1487.80 460.95,1490.21 461.98,1493.95 458.75,1491.81 455.52,1493.95 456.55,1490.21 453.52,1487.80 457.39,1487.63" fill="#fff"/>
<polygon points="577.50,1482.50 578.86,1486.13 582.73,1486.30 579.70,1488.71 580.73,1492.45 577.50,1490.31 574.27,1492.45 575.30,1488.71 572.27,1486.30 576.14,1486.13" fill="#fff"/>
<polygon points="373.75,1500.00 375.11,1503.63 378.98,1503.80 375.95,1506.21 376.98,1509.95 373.75,1507.81 370.52,1509.95 371.55,1506.21 368.52,1503.80 372.39,1503.63" fill="#fff"/>
<polygon points="417.50,1505.75 418.86,1509.38 422.73,1509.55 419.70,1511.96 420.73,1515.70 417.50,1513.56 414.27,1515.70 415.30,1511.96 412.27,1509.55 416.14,1509.38" fill="#fff"/>
<polygon points="488.75,1498.25 490.11,1501.88 493.98,1502.05 490.95,1504.46 491.98,1508.20 488.75,1506.06 485.52,1508.20 486.55,1504.46 483.52,1502.05 487.39,1501.88" fill="#fff"/>
<polygon points="523.75,1497.00 525.11,1500.63 528.98,1500.80 525.95,1503.21 526.98,1506.95 523.75,1504.81 520.52,1506.95 521.55,1503.21 518.52,1500.80 522.39,1500.63" fill="#fff"/>
<polygon points="630.00,1502.00 631.36,1505.63 635.23,1505.80 632.20,1508.21 633.23,1511.95 630.00,1509.81 626.77,1511.95 627.80,1508.21 624.77,1505.80 628.64,1505.63" fill="#fff"/>
<polygon points="385.00,1515.75 386.36,1519.38 390.23,1519.55 387.20,1521.96 388.23,1525.70 385.00,1523.56 381.77,1525.70 382.80,1521.96 379.77,1519.55 383.64,1519.38" fill="#fff"/>
<polygon points="497.50,1529.50 498.86,1533.13 502.73,1533.30 499.70,1535.71 500.73,1539.45 497.50,1537.31 494.27,1539.45 495.30,1535.71 492.27,1533.30 496.14,1533.13" fill="#fff"/>
<polygon points="588.75,1528.75 590.11,1532.38 593.98,1532.55 590.95,1534.96 591.98,1538.70 588.75,1536.56 585.52,1538.70 586.55,1534.96 583.52,1532.55 587.39,1532.38" fill="#fff"/>
<polygon points="307.50,1537.50 308.86,1541.13 312.73,1541.30 309.70,1543.71 310.73,1547.45 307.50,1545.31 304.27,1547.45 305.30,1543.71 302.27,1541.30 306.14,1541.13" fill="#fff"/>
<polygon points="291.25,1550.75 292.61,1554.38 296.48,1554.55 293.45,1556.96 294.48,1560.70 291.25,1558.56 288.02,1560.70 289.05,1556.96 286.02,1554.55 289.89,1554.38" fill="#fff"/>
<polygon points="365.00,1565.75 366.36,1569.38 370.23,1569.55 367.20,1571.96 368.23,1575.70 365.00,1573.56 361.77,1575.70 362.80,1571.96 359.77,1569.55 363.64,1569.38" fill="#fff"/>
<polygon points="348.25,1591.50 349.61,1595.13 353.48,1595.30 350.45,1597.71 351.48,1601.45 348.25,1599.31 345.02,1601.45 346.05,1597.71 343.02,1595.30 346.89,1595.13" fill="#fff"/>
<polygon points="488.75,1413.25 489.49,1415.23 491.60,1415.32 489.95,1416.64 490.51,1418.68 488.75,1417.51 486.99,1418.68 487.55,1416.64 485.90,1415.32 488.01,1415.23" fill="#fff"/>
<polygon points="459.50,1429.50 460.24,1431.48 462.35,1431.57 460.70,1432.89 461.26,1434.93 459.50,1433.76 457.74,1434.93 458.30,1432.89 456.65,1431.57 458.76,1431.48" fill="#fff"/>
<polygon points="561.25,1422.00 561.99,1423.98 564.10,1424.07 562.45,1425.39 563.01,1427.43 561.25,1426.26 559.49,1427.43 560.05,1425.39 558.40,1424.07 560.51,1423.98" fill="#fff"/>
<polygon points="613.00,1434.00 613.74,1435.98 615.85,1436.07 614.20,1437.39 614.76,1439.43 613.00,1438.26 611.24,1439.43 611.80,1437.39 610.15,1436.07 612.26,1435.98" fill="#fff"/>
<polygon points="529.50,1447.00 530.24,1448.98 532.35,1449.07 530.70,1450.39 531.26,1452.43 529.50,1451.26 527.74,1452.43 528.30,1450.39 526.65,1449.07 528.76,1448.98" fill="#fff"/>
<polygon points="543.75,1447.00 544.49,1448.98 546.60,1449.07 544.95,1450.39 545.51,1452.43 543.75,1451.26 541.99,1452.43 542.55,1450.39 540.90,1449.07 543.01,1448.98" fill="#fff"/>
<polygon points="467.50,1455.00 468.24,1456.98 470.35,1457.07 468.70,1458.39 469.26,1460.43 467.50,1459.26 465.74,1460.43 466.30,1458.39 464.65,1457.07 466.76,1456.98" fill="#fff"/>
<polygon points="564.50,1457.50 565.24,1459.48 567.35,1459.57 565.70,1460.89 566.26,1462.93 564.50,1461.76 562.74,1462.93 563.30,1460.89 561.65,1459.57 563.76,1459.48" fill="#fff"/>
<polygon points="361.25,1465.75 361.99,1467.73 364.10,1467.82 362.45,1469.14 363.01,1471.18 361.25,1470.01 359.49,1471.18 360.05,1469.14 358.40,1467.82 360.51,1467.73" fill="#fff"/>
<polygon points="646.25,1468.25 646.99,1470.23 649.10,1470.32 647.45,1471.64 648.01,1473.68 646.25,1472.51 644.49,1473.68 645.05,1471.64 643.40,1470.32 645.51,1470.23" fill="#fff"/>
<polygon points="476.25,1477.00 476.99,1478.98 479.10,1479.07 477.45,1480.39 478.01,1482.43 476.25,1481.26 474.49,1482.43 475.05,1480.39 473.40,1479.07 475.51,1478.98" fill="#fff"/>
<polygon points="515.00,1502.00 515.74,1503.98 517.85,1504.07 516.20,1505.39 516.76,1507.43 515.00,1506.26 513.24,1507.43 513.80,1505.39 512.15,1504.07 514.26,1503.98" fill="#fff"/>
<polygon points="587.50,1500.00 588.24,1501.98 590.35,1502.07 588.70,1503.39 589.26,1505.43 587.50,1504.26 585.74,1505.43 586.30,1503.39 584.65,1502.07 586.76,1501.98" fill="#fff"/>
<polygon points="556.25,1515.75 556.99,1517.73 559.10,1517.82 557.45,1519.14 558.01,1521.18 556.25,1520.01 554.49,1521.18 555.05,1519.14 553.40,1517.82 555.51,1517.73" fill="#fff"/>
<polygon points="291.25,1524.00 291.99,1525.98 294.10,1526.07 292.45,1527.39 293.01,1529.43 291.25,1528.26 289.49,1529.43 290.05,1527.39 288.40,1526.07 290.51,1525.98" fill="#fff"/>
<polygon points="517.50,1527.50 518.24,1529.48 520.35,1529.57 518.70,1530.89 519.26,1532.93 517.50,1531.76 515.74,1532.93 516.30,1530.89 514.65,1529.57 516.76,1529.48" fill="#fff"/>
<polygon points="419.25,1533.25 419.99,1535.23 422.10,1535.32 420.45,1536.64 421.01,1538.68 419.25,1537.51 417.49,1538.68 418.05,1536.64 416.40,1535.32 418.51,1535.23" fill="#fff"/>
<polygon points="645.75,1535.75 646.49,1537.73 648.60,1537.82 646.95,1539.14 647.51,1541.18 645.75,1540.01 643.99,1541.18 644.55,1539.14 642.90,1537.82 645.01,1537.73" fill="#fff"/>
<polygon points="428.75,1546.50 429.49,1548.48 431.60,1548.57 429.95,1549.89 430.51,1551.93 428.75,1550.76 426.99,1551.93 427.55,1549.89 425.90,1548.57 428.01,1548.48" fill="#fff"/>
<polygon points="465.00,1543.25 465.74,1545.23 467.85,1545.32 466.20,1546.64 466.76,1548.68 465.00,1547.51 463.24,1548.68 463.80,1546.64 462.15,1545.32 464.26,1545.23" fill="#fff"/>
<polygon points="334.50,1564.50 335.24,1566.48 337.35,1566.57 335.70,1567.89 336.26,1569.93 334.50,1568.76 332.74,1569.93 333.30,1567.89 331.65,1566.57 333.76,1566.48" fill="#fff"/>
<polygon points="340.00,1568.25 340.74,1570.23 342.85,1570.32 341.20,1571.64 341.76,1573.68 340.00,1572.51 338.24,1573.68 338.80,1571.64 337.15,1570.32 339.26,1570.23" fill="#fff"/>
<polygon points="392.50,1587.50 393.24,1589.48 395.35,1589.57 393.70,1590.89 394.26,1592.93 392.50,1591.76 390.74,1592.93 391.30,1590.89 389.65,1589.57 391.76,1589.48" fill="#fff"/>
<polygon points="317.50,1606.50 318.24,1608.48 320.35,1608.57 318.70,1609.89 319.26,1611.93 317.50,1610.76 315.74,1611.93 316.30,1609.89 314.65,1608.57 316.76,1608.48" fill="#fff"/>
<path d="M 231 1661 L 417 1605 L 728 1617 L 730 1658 L 500 1758 L 234 1701 Z" fill="#fff"/>
<path d="M 232 1661.5 L 418 1606 L 560 1615 L 640 1646 L 500 1707.5 Q 380 1672 232 1661.5 Z" fill="#4b4b4b"/>
<path d="M 232 1660 L 418 1604" fill="none" stroke="#fff" stroke-width="3" stroke-linecap="round" stroke-linejoin="round"/>
<path d="M 231.5 1662 L 234 1701 L 500 1758 L 730 1658 L 728.5 1618" fill="none" stroke="#6b6b6b" stroke-width="3" stroke-linecap="round" stroke-linejoin="round"/>
<path d="M 500 1709 Q 495 1733 500 1757 Q 505 1733 500 1709 Z" fill="#6b6b6b" stroke="#6b6b6b" stroke-width="2"/>
<path d="M 414 1597 Q 416 1588 424 1586 Q 436 1581 444 1578 Q 455 1569 463 1564 Q 478 1557 490 1556 Q 492 1551 498 1551 Q 506 1551 511 1554.5 Q 530 1554 542 1554.5 Q 560 1556 574 1562 Q 592 1568 606 1577 L 606 1600 L 542 1619 Q 538 1630 527 1632 Q 518 1628 511 1622 Q 470 1610 447 1607 Q 420 1604 414 1597 Z" fill="#fff" stroke="#fff" stroke-width="5" stroke-linejoin="round"/>
<path d="M 547 1620 Q 560 1600 606 1572 Q 640 1572 677 1580 Q 705 1586 717 1592 Q 732 1598 734 1600 Q 733 1606 725 1608 L 716 1613 Q 690 1622 669 1632 Q 662 1643 650 1644 Q 640 1640 637 1636 Q 600 1633 590 1632 Q 560 1627 547 1620 Z" fill="#fff" stroke="#fff" stroke-width="5" stroke-linejoin="round"/>
<path d="M 426 1601 Q 440 1602 447 1603 Q 480 1610 511 1618 Q 520 1626 530 1627 Q 536 1625 538 1622" fill="none" stroke="#6b6b6b" stroke-width="1.3" stroke-linecap="round" stroke-linejoin="round"/>
<path d="M 552 1561 Q 580 1565 604 1578" fill="none" stroke="#6b6b6b" stroke-width="1.2" stroke-linecap="round" stroke-linejoin="round"/>
<path d="M 550 1621 Q 590 1631 637 1635 Q 645 1643 652 1643 Q 660 1641 665 1634" fill="none" stroke="#6b6b6b" stroke-width="1.3" stroke-linecap="round" stroke-linejoin="round"/>
<path d="M 677 1580 Q 710 1588 730 1598" fill="none" stroke="#6b6b6b" stroke-width="1.2" stroke-linecap="round" stroke-linejoin="round"/>
<path d="M 669 1631 Q 700 1620 730 1605" fill="none" stroke="#6b6b6b" stroke-width="1.3" stroke-linecap="round" stroke-linejoin="round"/>
<path d="M 538.5 1602.5 Q 548 1577 586 1581 Q 562 1591 538.5 1602.5 Z" fill="#6b6b6b"/>
<path d="M 661 1622 Q 672 1597 708.5 1601 Q 684 1610 661 1622 Z" fill="#6b6b6b"/>
<path d="M 230.00 1722.00 L 238.47 1724.16 L 246.99 1726.31 L 255.55 1728.47 L 264.16 1730.62" fill="none" stroke="#4b4b4b" stroke-width="2.75" stroke-linecap="round" stroke-linejoin="round"/><path d="M 264.16 1730.62 L 272.81 1732.77 L 281.49 1734.92 L 290.19 1737.07 L 298.92 1739.22" fill="none" stroke="#4b4b4b" stroke-width="3.25" stroke-linecap="round" stroke-linejoin="round"/><path d="M 298.92 1739.22 L 307.67 1741.36 L 316.42 1743.50 L 325.18 1745.64 L 333.94 1747.77" fill="none" stroke="#4b4b4b" stroke-width="3.75" stroke-linecap="round" stroke-linejoin="round"/><path d="M 333.94 1747.77 L 342.69 1749.90 L 351.44 1752.02 L 360.17 1754.14 L 368.88 1756.25" fill="none" stroke="#4b4b4b" stroke-width="4.25" stroke-linecap="round" stroke-linejoin="round"/><path d="M 368.88 1756.25 L 377.56 1758.36 L 386.21 1760.46 L 394.82 1762.55 L 403.39 1764.64" fill="none" stroke="#4b4b4b" stroke-width="4.75" stroke-linecap="round" stroke-linejoin="round"/><path d="M 403.39 1764.64 L 411.91 1766.72 L 420.38 1768.79 L 428.79 1770.85 L 437.14 1772.91" fill="none" stroke="#4b4b4b" stroke-width="5.25" stroke-linecap="round" stroke-linejoin="round"/><path d="M 437.14 1772.91 L 445.42 1774.95 L 453.62 1776.99 L 461.75 1779.02 L 469.79 1781.04" fill="none" stroke="#4b4b4b" stroke-width="5.75" stroke-linecap="round" stroke-linejoin="round"/><path d="M 469.79 1781.04 L 477.74 1783.04 L 485.60 1785.04 L 493.35 1787.03 L 501.00 1789.00" fill="none" stroke="#4b4b4b" stroke-width="6.25" stroke-linecap="round" stroke-linejoin="round"/>
<path d="M 501.00 1789.00 L 508.41 1785.52 L 515.82 1782.03 L 523.25 1778.52 L 530.67 1774.99" fill="none" stroke="#4b4b4b" stroke-width="6.25" stroke-linecap="round" stroke-linejoin="round"/><path d="M 530.67 1774.99 L 538.11 1771.44 L 545.55 1767.88 L 553.00 1764.31 L 560.45 1760.72" fill="none" stroke="#4b4b4b" stroke-width="5.75" stroke-linecap="round" stroke-linejoin="round"/><path d="M 560.45 1760.72 L 567.92 1757.11 L 575.39 1753.49 L 582.86 1749.86 L 590.35 1746.21" fill="none" stroke="#4b4b4b" stroke-width="5.25" stroke-linecap="round" stroke-linejoin="round"/><path d="M 590.35 1746.21 L 597.84 1742.55 L 605.35 1738.88 L 612.86 1735.20 L 620.38 1731.50" fill="none" stroke="#4b4b4b" stroke-width="4.75" stroke-linecap="round" stroke-linejoin="round"/><path d="M 620.38 1731.50 L 627.90 1727.79 L 635.44 1724.07 L 642.99 1720.34 L 650.54 1716.60" fill="none" stroke="#4b4b4b" stroke-width="4.25" stroke-linecap="round" stroke-linejoin="round"/><path d="M 650.54 1716.60 L 658.11 1712.85 L 665.68 1709.08 L 673.26 1705.31 L 680.86 1701.53" fill="none" stroke="#4b4b4b" stroke-width="3.75" stroke-linecap="round" stroke-linejoin="round"/><path d="M 680.86 1701.53 L 688.46 1697.74 L 696.08 1693.94 L 703.71 1690.14 L 711.34 1686.32" fill="none" stroke="#4b4b4b" stroke-width="3.25" stroke-linecap="round" stroke-linejoin="round"/><path d="M 711.34 1686.32 L 718.99 1682.50 L 726.65 1678.68 L 734.32 1674.84 L 742.00 1671.00" fill="none" stroke="#4b4b4b" stroke-width="2.75" stroke-linecap="round" stroke-linejoin="round"/>
<path d="M 226 1720 L 261 1713" fill="none" stroke="#4b4b4b" stroke-width="4" stroke-linecap="round" stroke-linejoin="round"/>
<path d="M 226 1720 L 242 1746" fill="none" stroke="#4b4b4b" stroke-width="4" stroke-linecap="round" stroke-linejoin="round"/>
<path d="M 743 1670 L 714 1671" fill="none" stroke="#4b4b4b" stroke-width="4" stroke-linecap="round" stroke-linejoin="round"/>
<path d="M 743 1670 L 731 1700" fill="none" stroke="#4b4b4b" stroke-width="4" stroke-linecap="round" stroke-linejoin="round"/>
<g transform="translate(0 1627)"><text x="746.38" y="0" font-size="80.20" font-weight="bold" textLength="336.73" lengthAdjust="spacingAndGlyphs" fill="#666">240 x 135</text></g>
</svg></body></html>
